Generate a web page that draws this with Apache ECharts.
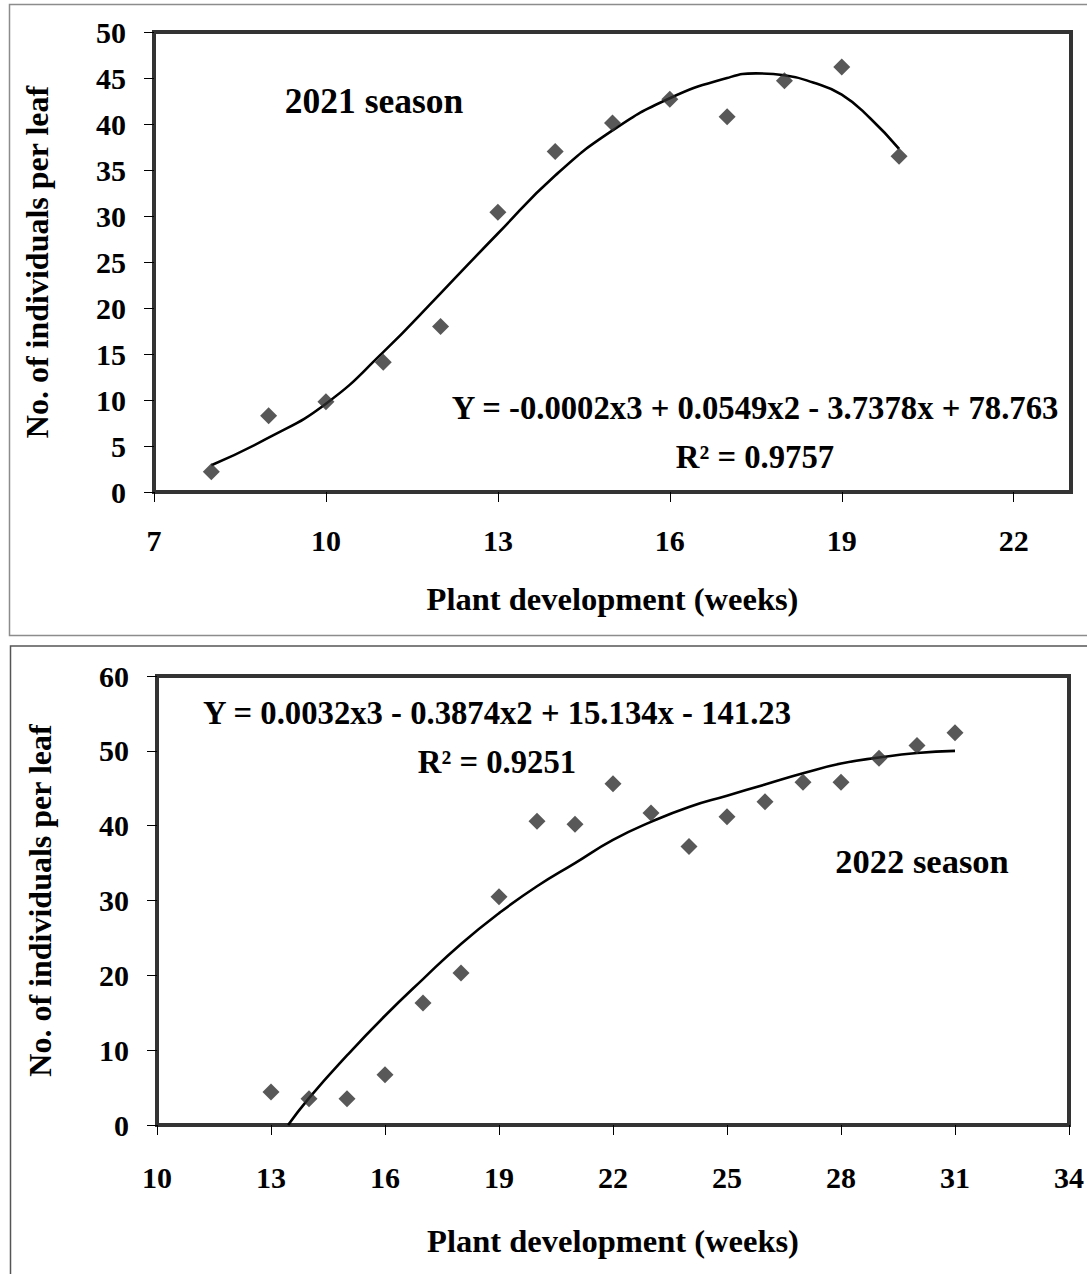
<!DOCTYPE html>
<html>
<head>
<meta charset="utf-8">
<script src="https://cdn.jsdelivr.net/npm/echarts@6/dist/echarts.min.js"></script>
<style>
  html, body { margin: 0; padding: 0; background: #fff; }
  #chart { width: 1087px; height: 1274px; }
</style>
</head>
<body>
<div id="chart"></div>
<script>
const weeks2021 = [8, 9, 10, 11, 12, 13, 14, 15, 16, 17, 18, 19, 20];
const counts2021 = [2.2, 8.3, 9.8, 14.1, 18.0, 30.4, 37.0, 40.1, 42.7, 40.8, 44.7, 46.2, 36.5];
const trendX2021 = [8, 9, 10, 11, 12, 13, 14, 15, 16, 17, 17.5, 18, 18.5, 19, 19.5, 20];
const trendY2021 = [2.9, 5.9, 9.6, 15.2, 21.6, 28.1, 34.4, 39.3, 42.8, 45.0, 45.5, 45.3, 44.5, 43.2, 40.6, 37.3];
const xTicks2021 = [7, 10, 13, 16, 19, 22];

// 2022 season
const weeks2022 = [13, 14, 15, 16, 17, 18, 19, 20, 21, 22, 23, 24, 25, 26, 27, 28, 29, 30, 31];
const counts2022 = [4.4, 3.5, 3.5, 6.7, 16.3, 20.3, 30.5, 40.6, 40.2, 45.6, 41.7, 37.2, 41.2, 43.2, 45.8, 45.8, 49.0, 50.7, 52.4];
const trendX2022 = [13.45, 14, 15, 16, 17, 18, 19, 20, 21, 22, 23, 24, 25, 26, 27, 28, 29, 30, 31];
const trendY2022 = [0, 3.6, 9.3, 14.6, 19.5, 24.2, 28.3, 31.9, 35.0, 38.1, 40.5, 42.5, 44.0, 45.5, 47.0, 48.3, 49.1, 49.7, 50.0];
const xTicks2022 = [10, 13, 16, 19, 22, 25, 28, 31, 34];

const eq2021 = 'Y = -0.0002x3 + 0.0549x2 - 3.7378x + 78.763';
const r2021 = 'R² = 0.9757';
const eq2022 = 'Y = 0.0032x3 - 0.3874x2 + 15.134x - 141.23';
const r2022 = 'R² = 0.9251';

const FONT = "'Liberation Serif', 'Times New Roman', serif";

function zip(xs, ys) { return xs.map((x, i) => [x, ys[i]]); }

function xAxisFor(gridIndex, min, max, ticks, margin, nameGap) {
  return {
    type: 'value', gridIndex, min, max,
    name: 'Plant development (weeks)', nameLocation: 'middle', nameGap,
    nameTextStyle: { fontFamily: FONT, fontWeight: 'bold', fontSize: 32.5, color: '#000' },
    axisLine: { show: false },
    axisTick: { show: true, length: 10, customValues: ticks, lineStyle: { color: '#000', width: 1 } },
    axisLabel: { customValues: ticks, margin, fontFamily: FONT, fontWeight: 'bold', fontSize: 30, color: '#000' },
    splitLine: { show: false }
  };
}

function yAxisFor(gridIndex, max, interval) {
  return {
    type: 'value', gridIndex, min: 0, max, interval,
    name: 'No. of individuals per leaf', nameLocation: 'middle', nameGap: 101, nameRotate: 90,
    nameTextStyle: { fontFamily: FONT, fontWeight: 'bold', fontSize: 32, color: '#000' },
    axisLine: { show: false },
    axisTick: { show: true, length: 10, lineStyle: { color: '#000', width: 1 } },
    axisLabel: { margin: 28, fontFamily: FONT, fontWeight: 'bold', fontSize: 30, color: '#000' },
    splitLine: { show: false }
  };
}

function label(x, y, text, size) {
  return {
    type: 'text', x, y, z: 10,
    style: { text, fill: '#000', font: 'bold ' + size + 'px ' + FONT, align: 'center', verticalAlign: 'middle' }
  };
}

const chart = echarts.init(document.getElementById('chart'), null, { renderer: 'svg' });

chart.setOption({
  backgroundColor: '#fff',
  animation: false,
  grid: [
    { left: 154, top: 32, width: 917, height: 460, show: true, borderColor: '#333', borderWidth: 4, backgroundColor: 'transparent' },
    { left: 157, top: 676, width: 916, height: 449, show: true, borderColor: '#333', borderWidth: 4, backgroundColor: 'transparent' }
  ],
  xAxis: [
    xAxisFor(0, 7, 23, xTicks2021, 33, 90),
    xAxisFor(1, 10, 34, xTicks2022, 37, 99)
  ],
  yAxis: [
    yAxisFor(0, 50, 5),
    yAxisFor(1, 60, 10)
  ],
  graphic: [
    { type: 'rect', z: -1, shape: { x: 9.5, y: 4.5, width: 1100, height: 631 }, style: { fill: 'none', stroke: '#8c8c8c', lineWidth: 1.5 } },
    { type: 'rect', z: -1, shape: { x: 10.5, y: 646, width: 1100, height: 700 }, style: { fill: 'none', stroke: '#555', lineWidth: 1.5 } },
    label(374, 101, '2021 season', 35.5),
    label(755, 408, eq2021, 32.7),
    label(755, 457, r2021, 32.7),
    label(497, 713, eq2022, 32.7),
    label(497, 762, r2022, 32.7),
    label(922, 861, '2022 season', 34.5)
  ],
  series: [
    {
      name: 'trend 2021', type: 'line', xAxisIndex: 0, yAxisIndex: 0,
      data: zip(trendX2021, trendY2021), smooth: true, showSymbol: false,
      lineStyle: { color: '#000', width: 2.6 }, z: 3
    },
    {
      name: '2021', type: 'scatter', xAxisIndex: 0, yAxisIndex: 0,
      data: zip(weeks2021, counts2021), symbol: 'diamond', symbolSize: 17,
      itemStyle: { color: '#2e2e2e' }, z: 4
    },
    {
      name: 'trend 2022', type: 'line', xAxisIndex: 1, yAxisIndex: 1,
      data: zip(trendX2022, trendY2022), smooth: true, showSymbol: false,
      lineStyle: { color: '#000', width: 2.6 }, z: 3
    },
    {
      name: '2022', type: 'scatter', xAxisIndex: 1, yAxisIndex: 1,
      data: zip(weeks2022, counts2022), symbol: 'diamond', symbolSize: 17,
      itemStyle: { color: '#2e2e2e' }, z: 4
    }
  ]
});
</script>
</body>
</html>
